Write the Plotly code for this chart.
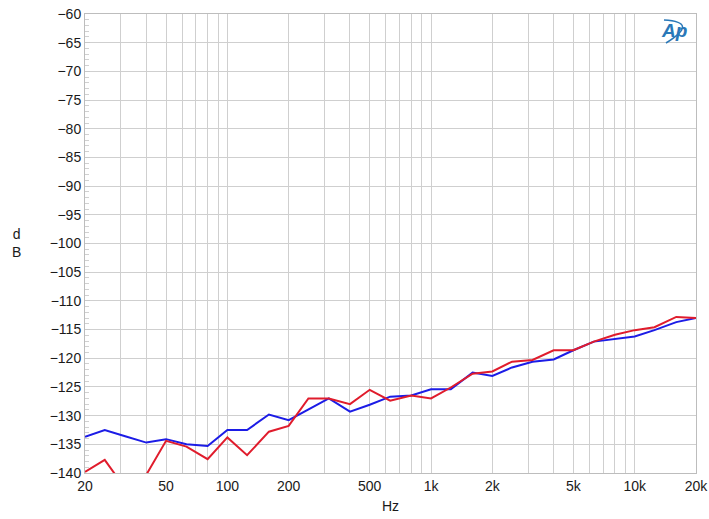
import plotly.graph_objects as go

# 1/3-octave measurement frequencies (Hz)
freqs = [20, 25, 31.5, 40, 50, 63, 80, 100, 125, 160, 200, 250, 315, 400, 500,
         630, 800, 1000, 1250, 1600, 2000, 2500, 3150, 4000, 5000, 6300, 8000,
         10000, 12500, 16000, 20000]

# Channel noise levels (dB)
blue_db = [-133.7, -132.5, -133.6, -134.7, -134.1, -135.0, -135.3, -132.5, -132.5,
           -129.8, -130.8, -129.0, -127.0, -129.3, -128.1, -126.7, -126.5, -125.4,
           -125.4, -122.5, -123.1, -121.6, -120.6, -120.2, -118.6, -117.1, -116.7,
           -116.2, -115.1, -113.7, -113.0]
red_db = [-139.8, -137.7, -142.7, -140.3, -134.4, -135.4, -137.6, -133.8, -136.9,
          -132.8, -131.8, -127.0, -127.0, -128.0, -125.5, -127.4, -126.5, -127.0,
          -125.1, -122.7, -122.3, -120.6, -120.3, -118.6, -118.6, -117.1, -115.9,
          -115.1, -114.6, -112.8, -113.0]

# Axis ticks: labelled positions plus unlabelled grid positions
x_tick_vals = [20, 30, 40, 50, 60, 70, 80, 90, 100, 200, 300, 400, 500, 600, 700,
               800, 900, 1000, 2000, 3000, 4000, 5000, 6000, 7000, 8000, 9000,
               10000, 20000]
x_tick_text = ["20", "", "", "50", "", "", "", "", "100", "200", "", "", "500", "",
               "", "", "", "1k", "2k", "", "", "5k", "", "", "", "", "10k", "20k"]
y_tick_vals = list(range(-140, -55, 5))

W, H = 709, 519
ML, MR, MT, MB = 85, 13, 14, 46
PW, PH = W - ML - MR, H - MT - MB


def px(x):
    return (x - ML) / PW


def py(y):
    return 1 - (y - MT) / PH


fig = go.Figure()
fig.add_trace(go.Scatter(x=freqs, y=blue_db, mode="lines",
                         line=dict(color="#1c1ce6", width=2), name="L"))
fig.add_trace(go.Scatter(x=freqs, y=red_db, mode="lines",
                         line=dict(color="#e01c2c", width=2), name="R"))

axis_font = dict(family="Liberation Sans, Arial, sans-serif", size=14, color="#1a1a1a")

fig.update_xaxes(type="log", range=[1.30103, 4.30103], automargin=False,
                 tickvals=x_tick_vals, ticktext=x_tick_text,
                 showgrid=True, gridcolor="#cfcfcf", gridwidth=1,
                 showline=True, linecolor="#bdbdbd", linewidth=1, mirror=True,
                 ticks="", tickfont=axis_font, zeroline=False)
fig.update_yaxes(range=[-140, -60], tickvals=y_tick_vals, automargin=False,
                 showgrid=True, gridcolor="#cfcfcf", gridwidth=1,
                 showline=True, linecolor="#bdbdbd", linewidth=1, mirror=True,
                 ticks="inside", ticklen=5, tickcolor="#c8c8c8",
                 minor=dict(ticks="inside", dtick=1, ticklen=4, tickcolor="#d0d0d0"),
                 tickfont=axis_font, zeroline=False)

fig.add_annotation(text="Hz", xref="paper", yref="paper", x=px(390), y=py(506),
                   xanchor="center", yanchor="middle", showarrow=False,
                   font=axis_font)
fig.add_annotation(text="d<br>B", xref="paper", yref="paper", x=px(16), y=py(243),
                   xanchor="center", yanchor="middle", showarrow=False,
                   font=axis_font)

# Audio Precision logo
fig.add_annotation(text="<b><i>Ap</i></b>", xref="paper", yref="paper",
                   x=px(674), y=py(31), xanchor="center", yanchor="middle",
                   showarrow=False,
                   font=dict(family="Liberation Sans, Arial, sans-serif", size=19,
                             color="#2a78b8"))
fig.add_shape(type="path", xref="paper", yref="paper",
              path="M {},{} Q {},{} {},{}".format(px(664), py(20), px(700), py(22),
                                                  px(666), py(43)),
              line=dict(color="#2a78b8", width=1.5))

fig.update_layout(width=W, height=H, margin=dict(l=ML, r=MR, t=MT, b=MB),
                  paper_bgcolor="white", plot_bgcolor="white", showlegend=False)

fig.write_html("out.html")
